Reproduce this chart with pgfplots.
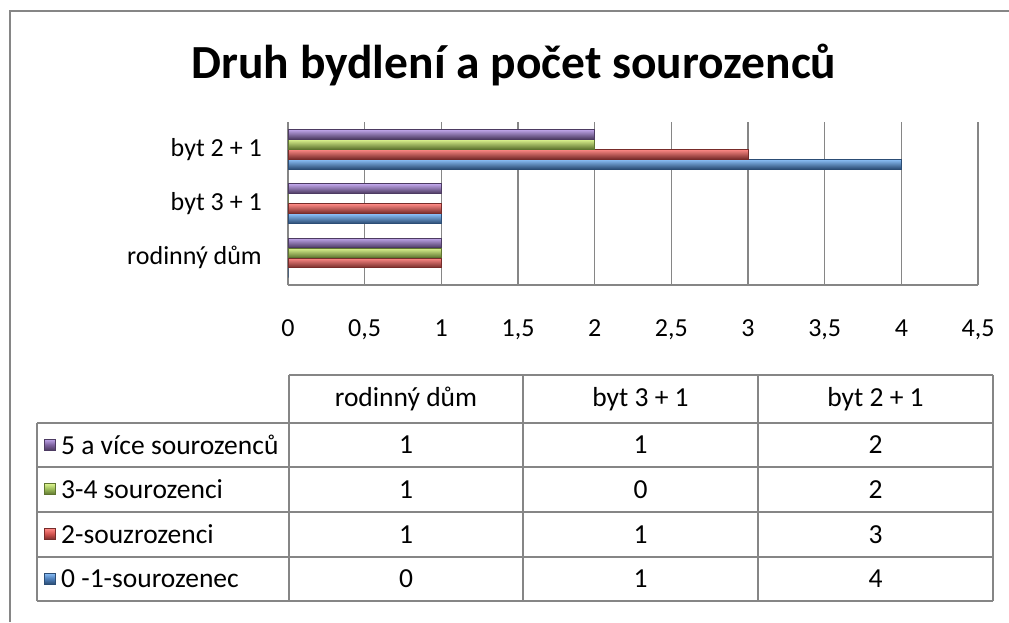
\documentclass[border=0pt]{standalone}
\usepackage{pgfplots}
\pgfplotsset{compat=1.18}
\usepackage{fontspec}
\setmainfont{Carlito}
\definecolor{gridc}{HTML}{868686}
\definecolor{bB}{HTML}{4F81BD}\definecolor{bL}{HTML}{8CC0F8}\definecolor{bD}{HTML}{2C4D75}
\definecolor{rB}{HTML}{D0504D}\definecolor{rL}{HTML}{FF8A86}\definecolor{rD}{HTML}{772C2A}
\definecolor{gB}{HTML}{9BBB59}\definecolor{gL}{HTML}{DDF590}\definecolor{gD}{HTML}{5F7530}
\definecolor{pB}{HTML}{8064A2}\definecolor{pL}{HTML}{C2A8EC}\definecolor{pD}{HTML}{4D3B62}
\pgfplotsset{
  sB/.style={bar shift=-15pt, draw=bD, line width=0.8pt, top color=bL, middle color=bB, bottom color=bD},
  sR/.style={bar shift=-5pt, draw=rD, line width=0.8pt, top color=rL, middle color=rB, bottom color=rD},
  sG/.style={bar shift=5pt, draw=gD, line width=0.8pt, top color=gL, middle color=gB, bottom color=gD},
  sP/.style={bar shift=15pt, draw=pD, line width=0.8pt, top color=pL, middle color=pB, bottom color=pD},
}
\begin{document}
\begin{tikzpicture}
\useasboundingbox (0,0) rectangle (1009pt,-622pt);
\begin{axis}[
  at={(288pt,-285pt)}, anchor=south west, scale only axis,
  width=690pt, height=163pt,
  xbar, bar width=9.5pt,
  xmin=0, xmax=4.5, ymin=-0.5, ymax=2.5,
  ytick={0,1,2}, yticklabels={rodinný dům, byt 3 + 1, byt 2 + 1},
  xtick={0,0.5,1,1.5,2,2.5,3,3.5,4,4.5},
  xticklabels={0,{0,5},1,{1,5},2,{2,5},3,{3,5},4,{4,5}},
  xmajorgrids, grid style={gridc, line width=1.4pt},
  major tick length=0pt,
  axis x line*=bottom, axis y line*=left,
  axis line style={gridc, line width=1.4pt, -},
  xticklabel style={font=\fontsize{26}{30}\selectfont, text=black, anchor=base, yshift=-51pt},
  yticklabel style={font=\fontsize{26}{30}\selectfont, text=black, anchor=east, inner sep=0pt, xshift=-26pt},
  clip=false,
]
% series 0-1-sourozenec (blue)
\addplot[sB] coordinates {(0,0)};
\addplot[sB] coordinates {(1,1)};
\addplot[sB] coordinates {(4,2)};
% 2-souzrozenci (red)
\addplot[sR] coordinates {(1,0)};
\addplot[sR] coordinates {(1,1)};
\addplot[sR] coordinates {(3,2)};
% 3-4 sourozenci (green)
\addplot[sG] coordinates {(1,0)};
\addplot[sG] coordinates {(0,1)};
\addplot[sG] coordinates {(2,2)};
% 5 a vice (purple)
\addplot[sP] coordinates {(1,0)};
\addplot[sP] coordinates {(1,1)};
\addplot[sP] coordinates {(2,2)};
\end{axis}
\begin{scope}[x=1pt,y=-1pt]
% outer frame
\draw[gridc, line width=1.6pt] (10,622) -- (10,11) -- (1009,11);
% title
\node[font=\fontsize{47.5}{56}\selectfont\bfseries] at (514,65) {Druh bydlení a počet sourozenců};
% table lines
\begin{scope}[gridc, line width=1.3pt]
\draw (289,375) -- (993,375);
\foreach \y in {423,467,512,557,601} \draw (37,\y) -- (993,\y);
\foreach \x in {289,523,758,993} \draw (\x,375) -- (\x,601);
\draw (37,423) -- (37,601);
\end{scope}
\begin{scope}[font=\fontsize{27.5}{32}\selectfont]
\node at (406,399) {rodinný dům};
\node at (640.5,399) {byt 3 + 1};
\node at (875.5,399) {byt 2 + 1};
\foreach \y/\a/\b/\c in {445/1/1/2, 489.5/1/0/2, 534.5/1/1/3, 579/0/1/4}{
  \node at (406,\y) {\a};
  \node at (640.5,\y) {\b};
  \node at (875.5,\y) {\c};
}
\node[anchor=west, inner sep=0pt] at (61,445) {5 a více sourozenců};
\node[anchor=west, inner sep=0pt] at (61,489.5) {3-4 sourozenci};
\node[anchor=west, inner sep=0pt] at (61,534.5) {2-souzrozenci};
\node[anchor=west, inner sep=0pt] at (61,579) {0 -1-sourozenec};
\end{scope}
% legend keys
\path[draw=pD, line width=0.8pt, top color=pL, bottom color=pD, middle color=pB] (44,439) rectangle (55,450);
\path[draw=gD, line width=0.8pt, top color=gL, bottom color=gD, middle color=gB] (44,483.5) rectangle (55,494.5);
\path[draw=rD, line width=0.8pt, top color=rL, bottom color=rD, middle color=rB] (44,528.5) rectangle (55,539.5);
\path[draw=bD, line width=0.8pt, top color=bL, bottom color=bD, middle color=bB] (44,573) rectangle (55,584);
\end{scope}
\end{tikzpicture}
\end{document}
